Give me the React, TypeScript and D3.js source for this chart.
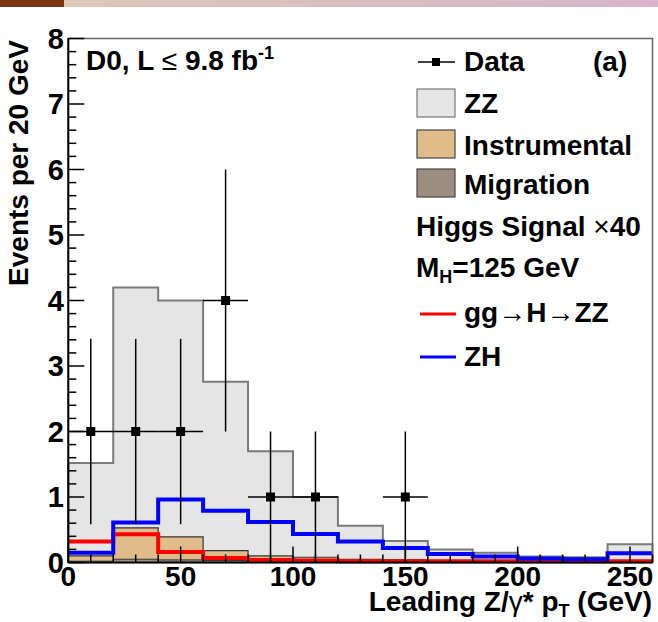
import React from "react";
import * as d3 from "d3";

// ---- data (events per 20 GeV bin) ----
const binEdges = [0, 20, 40, 60, 80, 100, 120, 140, 160, 180, 200, 220, 240, 260];
const migration = [0.02, 0.05, 0.04, 0.03, 0.02, 0.02, 0.01, 0.01, 0.01, 0.01, 0.01, 0.01, 0.01];
const instrumental = [0.08, 0.48, 0.35, 0.15, 0.08, 0.06, 0.04, 0.03, 0.02, 0.02, 0.02, 0.02, 0.02];
const zz = [1.42, 3.67, 3.61, 2.58, 1.6, 0.92, 0.51, 0.29, 0.17, 0.12, 0.06, 0.05, 0.25];
const ggH = [0.32, 0.43, 0.16, 0.07, 0.04, 0.03, 0.02, 0.02, 0.02, 0.02, 0.02, 0.02, 0.02];
const zh = [0.15, 0.61, 0.96, 0.79, 0.62, 0.435, 0.32, 0.22, 0.13, 0.09, 0.06, 0.05, 0.14];
const dataX = [10, 30, 50, 70, 90, 110, 150];
const dataN = [2, 2, 2, 4, 1, 1, 1];
const xTicks = [0, 50, 100, 150, 200, 250];
const yTicks = [0, 1, 2, 3, 4, 5, 6, 7, 8];

const W = 658, H = 622;
const FONT = "'Liberation Sans', Arial, Helvetica, sans-serif";

const x = d3.scaleLinear().domain([0, 260]).range([68.3, 652.5]);
const y = d3.scaleLinear().domain([0, 8]).range([562.5, 38.5]);

function stepPts(vals: number[]): [number, number][] {
  const pts: [number, number][] = vals.map((v, i) => [binEdges[i], v]);
  pts.push([binEdges[binEdges.length - 1], vals[vals.length - 1]]);
  return pts;
}

const line = d3.line<[number, number]>().x(d => x(d[0])).y(d => y(d[1])).curve(d3.curveStepAfter);
const area = d3.area<[number, number]>().x(d => x(d[0])).y0(y(0)).y1(d => y(d[1])).curve(d3.curveStepAfter);

const cumMig = migration;
const cumInst = instrumental.map((v, i) => v + migration[i]);
const cumTot = zz.map((v, i) => v + cumInst[i]);

function outline(vals: number[]): string {
  const pts = stepPts(vals);
  return `M${x(0)},${y(0)}L` + line(pts)!.slice(1) + `L${x(260)},${y(0)}`;
}

export default function App() {
  const yMinor = d3.range(0, 8.001, 0.2).filter(v => Math.abs(v - Math.round(v)) > 1e-6);
  const xMinor = d3.range(0, 260.001, 10).filter(v => v % 50 !== 0);
  return (
    <svg width={W} height={H} style={{ position: "absolute", left: 0, top: 0, background: "#fff" }}
      fontFamily={FONT} fontWeight="bold">
      <defs>
        <linearGradient id="ban" x1="0" x2="1" y1="0" y2="0">
          <stop offset="0" stopColor="#dcc7b6" />
          <stop offset="1" stopColor="#d8b3cb" />
        </linearGradient>
      </defs>
      <rect x={0} y={0} width={W} height={H} fill="#fff" />
      <rect x={64} y={0} width={W - 64} height={7} fill="url(#ban)" />
      <rect x={0} y={0} width={64} height={7} fill="#7a3410" />

      {/* stacked backgrounds */}
      <path d={area(stepPts(cumTot))!} fill="#e5e5e5" />
      <path d={outline(cumTot)} fill="none" stroke="#7a7a7a" strokeWidth={2} />
      <path d={area(stepPts(cumInst))!} fill="#dfbc8a" />
      <path d={outline(cumInst)} fill="none" stroke="#333" strokeWidth={1.2} />
      <path d={area(stepPts(cumMig))!} fill="#9b8e80" />
      <path d={outline(cumMig)} fill="none" stroke="#333" strokeWidth={1} />

      {/* signals */}
      <path d={line(stepPts(ggH))!} fill="none" stroke="#ff0000" strokeWidth={4} />
      <path d={line(stepPts(zh))!} fill="none" stroke="#0000ff" strokeWidth={4} />

      {/* data */}
      {dataX.map((cx, i) => {
        const n = dataN[i];
        const e = Math.sqrt(n);
        return (
          <g key={i} stroke="#000" strokeWidth={1.5}>
            <line x1={x(cx - 10)} x2={x(cx + 10)} y1={y(n)} y2={y(n)} />
            <line x1={x(cx)} x2={x(cx)} y1={y(Math.max(0, n - e))} y2={y(n + e)} />
            <rect x={x(cx) - 4.5} y={y(n) - 4.5} width={9} height={9} fill="#000" stroke="none" />
          </g>
        );
      })}

      {/* frame */}
      <rect x={x(0)} y={y(8)} width={x(260) - x(0)} height={y(0) - y(8)} fill="none" stroke="#666" strokeWidth={1.5} />
      <line x1={x(0)} x2={x(0)} y1={y(0)} y2={y(8)} stroke="#000" strokeWidth={2} />
      <line x1={x(0)} x2={x(260)} y1={y(0)} y2={y(0)} stroke="#000" strokeWidth={2} />

      {/* ticks */}
      <g stroke="#000" strokeWidth={1.5}>
        {yTicks.map(t => <line key={"ym" + t} x1={x(0)} x2={x(0) + 16} y1={y(t)} y2={y(t)} />)}
        {yMinor.map(t => <line key={"yn" + t} x1={x(0)} x2={x(0) + 8} y1={y(t)} y2={y(t)} />)}
        {xTicks.map(t => <line key={"xm" + t} x1={x(t)} x2={x(t)} y1={y(0)} y2={y(0) - 16} />)}
        {xMinor.map(t => <line key={"xn" + t} x1={x(t)} x2={x(t)} y1={y(0)} y2={y(0) - 8} />)}
      </g>

      {/* tick labels */}
      {yTicks.map(t => (
        <text key={"yl" + t} x={64} y={y(t) + 10} textAnchor="end" fontSize={29}>{t}</text>
      ))}
      {xTicks.map(t => (
        <text key={"xl" + t} x={x(t)} y={586} textAnchor="middle" fontSize={28}>{t}</text>
      ))}

      {/* axis titles */}
      <text x={652} y={611} textAnchor="end" fontSize={28}>
        Leading Z/<tspan fontWeight="normal">γ</tspan>* p<tspan fontSize={18} dy={6}>T</tspan><tspan dy={-6}> (GeV)</tspan>
      </text>
      <text transform="translate(28,40) rotate(-90)" textAnchor="end" fontSize={28}>Events per 20 GeV</text>

      {/* experiment label */}
      <text x={86} y={70} fontSize={28}>
        D0, L <tspan fontWeight="normal">≤</tspan> 9.8 fb<tspan fontSize={18} dy={-11}>-1</tspan>
      </text>

      {/* legend */}
      <g fontSize={28}>
        <line x1={418} x2={455} y1={62} y2={62} stroke="#000" strokeWidth={1.5} />
        <rect x={432} y={58} width={8} height={8} fill="#000" />
        <text x={464} y={71}>Data</text>
        <text x={593} y={71}>(a)</text>

        <rect x={417} y={89} width={38} height={28} fill="#e5e5e5" stroke="#777" strokeWidth={1.2} />
        <text x={464} y={113}>ZZ</text>
        <rect x={417} y={130} width={38} height={28} fill="#dfbc8a" stroke="#444" strokeWidth={1.2} />
        <text x={464} y={155}>Instrumental</text>
        <rect x={417} y={169} width={38} height={28} fill="#9b8e80" stroke="#444" strokeWidth={1.2} />
        <text x={464} y={194}>Migration</text>

        <text x={416} y={236}>Higgs Signal <tspan fontWeight="normal">×</tspan>40</text>
        <text x={416} y={277}>M<tspan fontSize={18} dy={6}>H</tspan><tspan dy={-6}>=125 GeV</tspan></text>

        <line x1={420} x2={456} y1={314} y2={314} stroke="#ff0000" strokeWidth={3} />
        <text x={464} y={322}>gg<tspan fontWeight="normal">→</tspan>H<tspan fontWeight="normal">→</tspan>ZZ</text>
        <line x1={420} x2={456} y1={357} y2={357} stroke="#0000ff" strokeWidth={3} />
        <text x={464} y={366}>ZH</text>
      </g>
    </svg>
  );
}
